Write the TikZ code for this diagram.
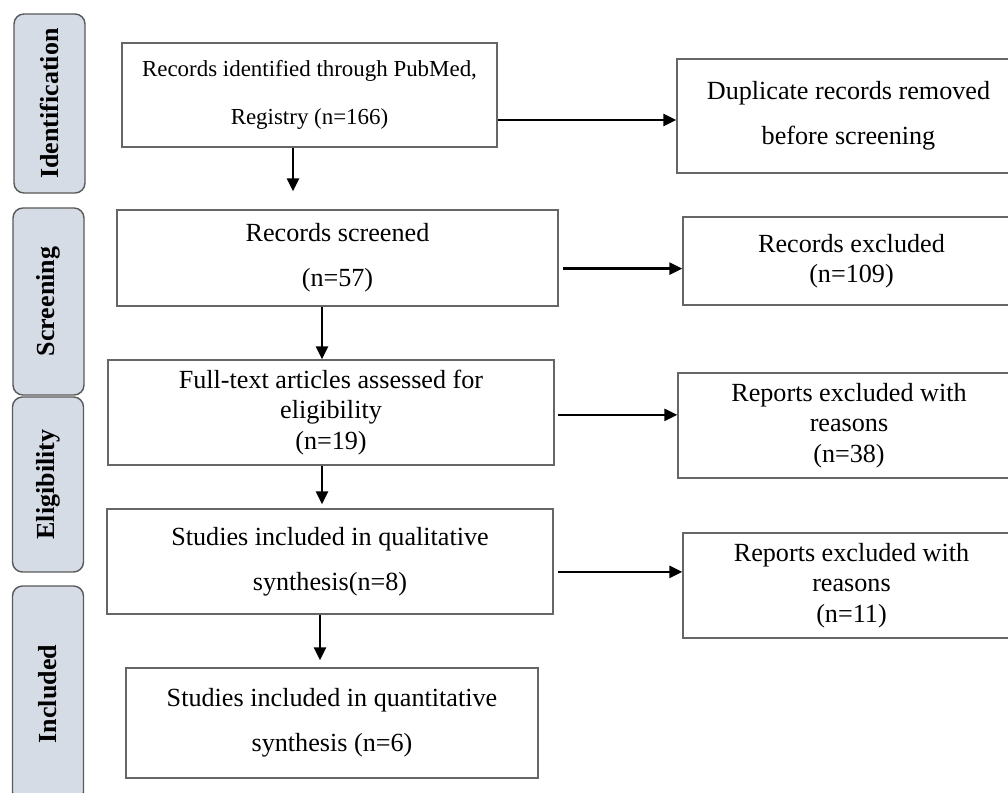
\documentclass[tikz,border=0pt]{standalone}
\usepackage{fontspec}
\setmainfont{Liberation Serif}
\usetikzlibrary{arrows.meta}
\definecolor{phasefill}{HTML}{D6DCE5}

\begin{document}
\begin{tikzpicture}[
    x=0.025cm, y=-0.025cm,
    box/.style={draw=black!60, line width=1pt, align=center, inner sep=2pt},
    wide/.style={font=\fontsize{18.6}{32}\selectfont},
    tight/.style={font=\fontsize{18.6}{21.5}\selectfont},
    phase/.style={draw=black!65, fill=phasefill, line width=1pt, rounded corners=0.25cm,
      rotate=90, minimum height=1.775cm, font=\fontsize{18.5}{22}\selectfont\bfseries},
    arrow/.style={-{Triangle[length=0.32cm,width=0.3cm]}, line width=1.6pt}
  ]
  \useasboundingbox (0,0) rectangle (1008,793);
  \clip (0,0) rectangle (1008,793);

  \node[phase, minimum width=4.475cm] (lid) at (49.5,103.5) {Identification};
  \node[phase, minimum width=4.675cm] (lscr) at (48.5,301.5) {Screening};
  \node[phase, minimum width=4.375cm] (lel) at (48,484.5) {Eligibility};
  \node[phase, minimum width=5.4cm] (linc) at (48,694) {Included};

  \node[box, font=\fontsize{16.3}{34}\selectfont, minimum width=9.375cm, minimum height=2.6cm]
    (rec) at (309.5,95) {Records identified through PubMed,\\Registry (n=166)};
  \node[box, wide, minimum width=8.575cm, minimum height=2.85cm]
    (dup) at (848.5,116) {Duplicate records removed\\before screening};
  \node[box, wide, minimum width=11.025cm, minimum height=2.4cm]
    (scr) at (337.5,258) {Records screened\\(n=57)};
  \node[box, tight, minimum width=8.425cm, minimum height=2.2cm]
    (excl) at (851.5,261) {Records excluded\\(n=109)};
  \node[box, tight, minimum width=11.15cm, minimum height=2.625cm]
    (full) at (331,412.5) {Full-text articles assessed for\\eligibility\\(n=19)};
  \node[box, tight, minimum width=8.55cm, minimum height=2.625cm]
    (rept) at (849,425.5) {Reports excluded with\\reasons\\(n=38)};
  \node[box, wide, minimum width=11.15cm, minimum height=2.625cm]
    (qual) at (330,561.5) {Studies included in qualitative\\synthesis(n=8)};
  \node[box, tight, minimum width=8.425cm, minimum height=2.625cm]
    (repq) at (851.5,585.5) {Reports excluded with\\reasons\\(n=11)};
  \node[box, wide, minimum width=10.3cm, minimum height=2.75cm]
    (quant) at (332,723) {Studies included in quantitative\\synthesis (n=6)};

  \draw[arrow, shorten >=0.45cm] ([xshift=-0.4125cm]rec.south) -- ([xshift=-0.4125cm]rec.south |- scr.north);
  \draw[arrow] ([xshift=-0.3875cm]scr.south) -- ([xshift=-0.3875cm]scr.south |- full.north);
  \draw[arrow, shorten >=0.1cm] ([xshift=-0.225cm]full.south) -- ([xshift=-0.225cm]full.south |- qual.north);
  \draw[arrow, shorten >=0.175cm] ([xshift=-0.25cm]qual.south) -- ([xshift=-0.25cm]qual.south |- quant.north);

  \draw[arrow] ([yshift=-0.1cm]dup.west -| rec.east) -- ([yshift=-0.1cm]dup.west);
  \draw[arrow, shorten <=0.1cm] ([yshift=-0.19cm]excl.west -| scr.east) -- ([yshift=-0.19cm]excl.west);
  \draw[arrow, shorten <=0.075cm] ([yshift=-0.06cm]full.east) -- ([yshift=-0.06cm]full.east -| rept.west);
  \draw[arrow, shorten <=0.1cm] ([yshift=-0.26cm]qual.east) -- ([yshift=-0.26cm]qual.east -| repq.west);
\end{tikzpicture}
\end{document}
